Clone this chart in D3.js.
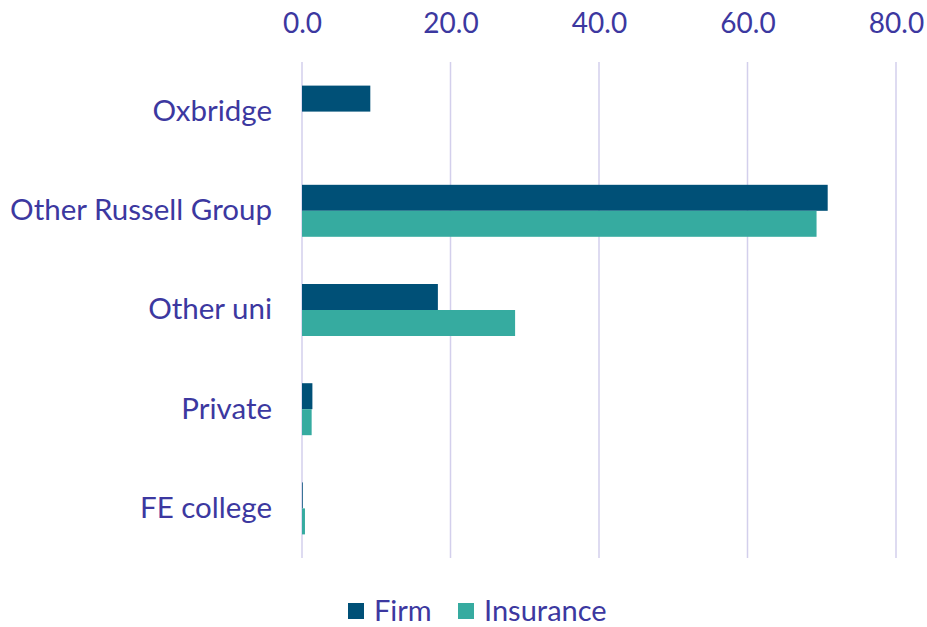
<!DOCTYPE html>
<html>
<head>
<meta charset="utf-8">
<script src="https://cdn.jsdelivr.net/npm/d3@7"></script>
<style>
  body { margin: 0; background: #fff; }
  svg text { font-family: Lato, "Open Sans", sans-serif; fill: #3c38a0; }
</style>
</head>
<body>
<svg id="chart"></svg>
<script>
const width = 927;
const height = 627;

// Données
const categories = ["Oxbridge", "Other Russell Group", "Other uni", "Private", "FE college"];
const series = ["Firm", "Insurance"];
const firm = [9.2, 70.8, 18.3, 1.4, 0.1];
const insurance = [0.0, 69.3, 28.7, 1.3, 0.4];
const ticks = [0, 20, 40, 60, 80];
const colors = ["#005077", "#36aba0"];

const values = { Firm: firm, Insurance: insurance };

const svg = d3.select("#chart")
  .attr("width", width)
  .attr("height", height);

const x = d3.scaleLinear()
  .domain([0, 80])
  .range([302, 896]);

const y = d3.scaleBand()
  .domain(categories)
  .range([62, 558])
  .paddingInner(0.476)
  .paddingOuter(0.238);

const ySub = d3.scaleBand()
  .domain(series)
  .range([0, y.bandwidth()]);

// Grille verticale
svg.append("g")
  .selectAll("line")
  .data(ticks)
  .join("line")
  .attr("x1", d => x(d))
  .attr("x2", d => x(d))
  .attr("y1", 62)
  .attr("y2", 558)
  .attr("stroke", "#d3cfec")
  .attr("stroke-width", 1.5);

// Axe du haut
const xAxis = svg.append("g")
  .attr("transform", "translate(0,33)")
  .call(d3.axisTop(x).tickValues(ticks).tickFormat(d3.format(".1f")).tickSize(0).tickPadding(0));
xAxis.select(".domain").remove();
xAxis.selectAll("text")
  .attr("font-size", 28)
  .attr("dy", 0)
  .style("fill", "#3c38a0");

// Barres
const groups = svg.append("g")
  .selectAll("g")
  .data(categories)
  .join("g")
  .attr("transform", d => `translate(0,${y(d)})`);

groups.selectAll("rect")
  .data((c, i) => series.map((s, j) => ({ s, v: values[s][i], j })))
  .join("rect")
  .attr("x", x(0))
  .attr("y", d => ySub(d.s))
  .attr("width", d => x(d.v) - x(0))
  .attr("height", ySub.bandwidth())
  .attr("fill", d => colors[d.j]);

// Libellés des catégories
const yAxis = svg.append("g")
  .attr("transform", "translate(272,0)")
  .call(d3.axisLeft(y).tickSize(0).tickPadding(0));
yAxis.select(".domain").remove();
yAxis.selectAll("text")
  .attr("font-size", 29.5)
  .style("fill", "#3c38a0");

// Légende
const legend = svg.append("g")
  .attr("transform", "translate(348,603)");
const item = legend.selectAll("g")
  .data(series)
  .join("g")
  .attr("transform", (d, i) => `translate(${i * 110},0)`);
item.append("rect")
  .attr("width", 16)
  .attr("height", 16)
  .attr("fill", (d, i) => colors[i]);
item.append("text")
  .attr("x", 26)
  .attr("y", 8)
  .attr("dy", "0.35em")
  .attr("font-size", 29)
  .text(d => d);
</script>
</body>
</html>
